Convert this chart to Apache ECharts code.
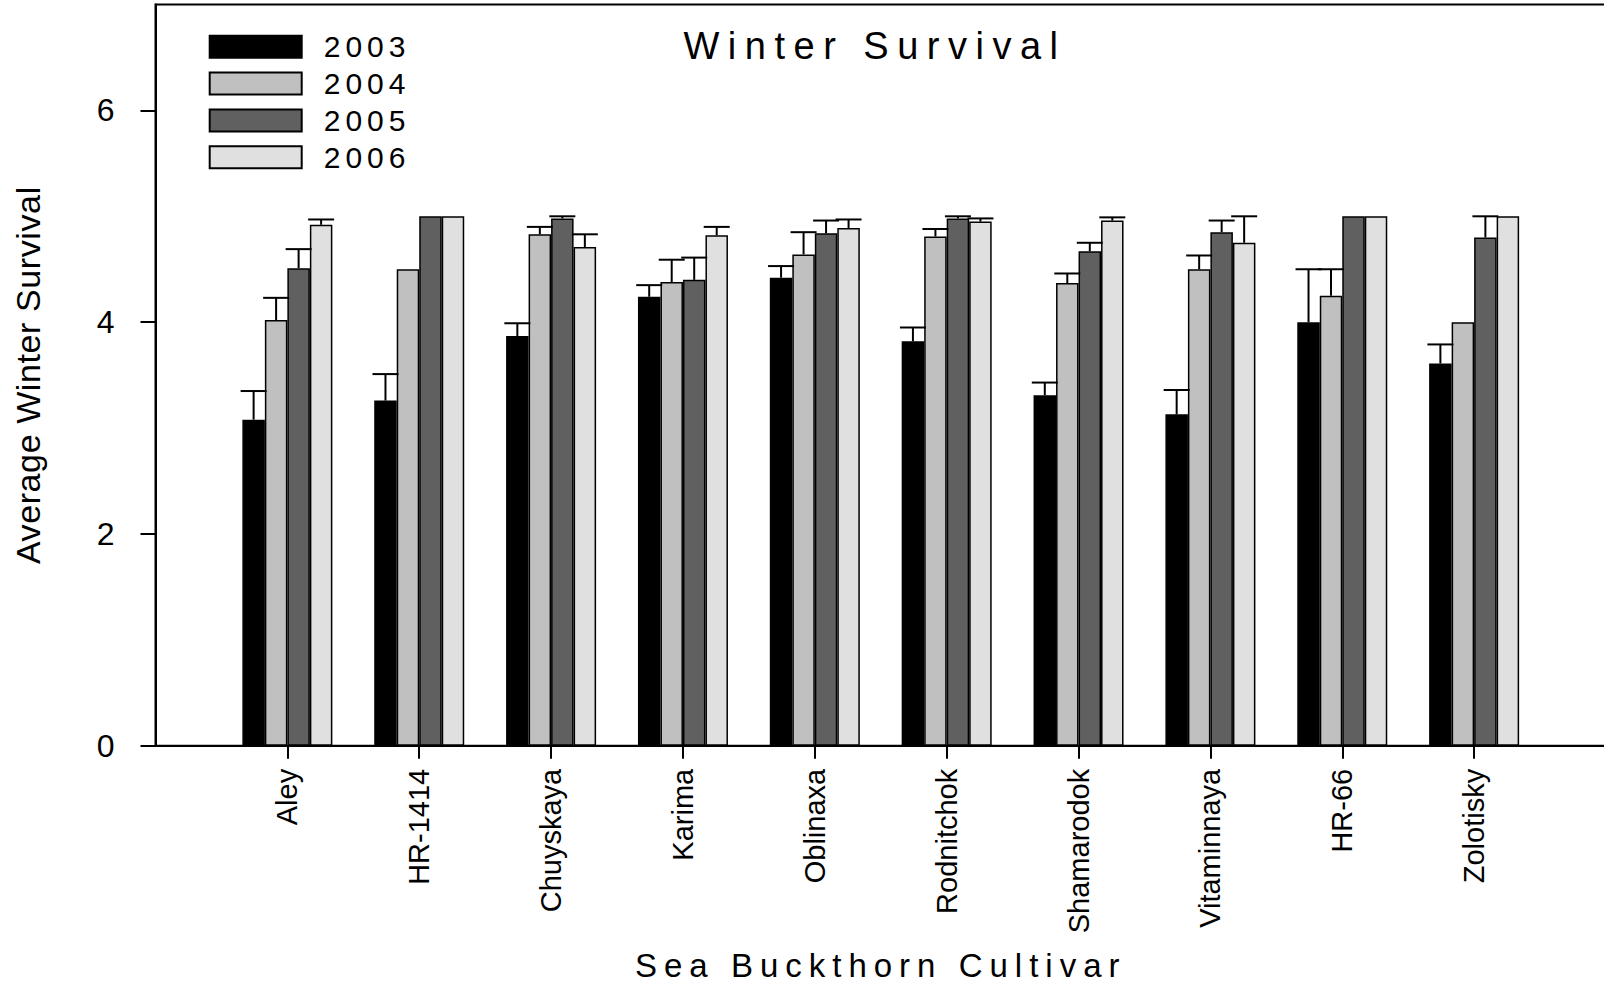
<!DOCTYPE html>
<html>
<head>
<meta charset="utf-8">
<script src="https://cdn.jsdelivr.net/npm/echarts@6/dist/echarts.min.js"></script>
<style>
html,body{margin:0;padding:0;background:#fff;}
#c{width:1604px;height:986px;}
</style>
</head>
<body>
<div id="c"></div>
<script>
// ---- data ----
const categories = ['Aley','HR-1414','Chuyskaya','Karima','Oblinaxa','Rodnitchok','Shamarodok','Vitaminnaya','HR-66','Zolotisky'];
const years = ['2003','2004','2005','2006'];
const mean2003 = [3.08, 3.26, 3.87, 4.24, 4.42, 3.82, 3.31, 3.13, 4.00, 3.61];
const mean2004 = [4.02, 4.50, 4.83, 4.38, 4.64, 4.81, 4.37, 4.50, 4.25, 4.00];
const mean2005 = [4.51, 5.00, 4.98, 4.40, 4.84, 4.98, 4.67, 4.85, 5.00, 4.80];
const mean2006 = [4.92, 5.00, 4.71, 4.82, 4.89, 4.95, 4.96, 4.75, 5.00, 5.00];
const err2003 = [0.27, 0.25, 0.12, 0.11, 0.11, 0.13, 0.12, 0.23, 0.50, 0.18];
const err2004 = [0.21, 0.00, 0.07, 0.21, 0.21, 0.07, 0.09, 0.13, 0.25, 0.00];
const err2005 = [0.18, 0.00, 0.02, 0.21, 0.12, 0.02, 0.08, 0.11, 0.00, 0.20];
const err2006 = [0.05, 0.00, 0.12, 0.08, 0.08, 0.03, 0.03, 0.25, 0.00, 0.00];
const yTicks = [0, 2, 4, 6];
const titleText = 'Winter Survival';
const xName = 'Sea Buckthorn Cultivar';
const yName = 'Average Winter Survival';

// ---- styles ----
const colors = ['#000000', '#c0c0c0', '#606060', '#e0e0e0'];
const FONT = '"Liberation Sans", Arial, Helvetica, sans-serif';
const BAR_W = 22.5;
const CAP_HALF = 13;

const means = [mean2003, mean2004, mean2005, mean2006];
const errs = [err2003, err2004, err2005, err2006];
const catPos = categories.map((c, i) => i + 1);

const chart = echarts.init(document.getElementById('c'), null, {renderer: 'svg', width: 1604, height: 986});

const barSeries = years.map((y, k) => ({
  name: y,
  type: 'bar',
  barWidth: BAR_W,
  barGap: '0%',
  z: 2,
  data: means[k].map((v, i) => [i + 1, v]),
  itemStyle: {color: colors[k], borderColor: '#000', borderWidth: 1.5}
}));

const errSeries = years.map((y, k) => ({
  name: y + ' error',
  type: 'custom',
  z: 3,
  data: means[k].map((v, i) => [i + 1, v, v + errs[k][i]]).filter((d, i) => errs[k][i] > 0),
  encode: {x: 0, y: [1, 2]},
  renderItem: function (params, api) {
    const x = api.value(0), lo = api.value(1), hi = api.value(2);
    const p0 = api.coord([x, lo]);
    const p1 = api.coord([x, hi]);
    const cx = p0[0] + (k - 1.5) * BAR_W;
    return {
      type: 'group',
      children: [
        {type: 'line', shape: {x1: cx, y1: p0[1], x2: cx, y2: p1[1]}, style: {stroke: '#000', lineWidth: 2}},
        {type: 'line', shape: {x1: cx - CAP_HALF, y1: p1[1], x2: cx + CAP_HALF, y2: p1[1]}, style: {stroke: '#000', lineWidth: 2}}
      ]
    };
  }
}));

const option = {
  animation: false,
  backgroundColor: '#fff',
  textStyle: {fontFamily: FONT, color: '#000'},
  grid: {
    left: 155.5, right: -2, top: 4.5, bottom: 240.2,
    show: true, borderColor: '#000', borderWidth: 2, backgroundColor: 'transparent',
    containLabel: false, outerBoundsMode: 'none'
  },
  legend: {
    data: years,
    orient: 'vertical',
    left: 208.7, top: 31.8, padding: 0,
    itemWidth: 92, itemHeight: 22, itemGap: 6.8,
    icon: 'rect',
    selectedMode: false,
    textStyle: {fontSize: 30, color: '#000', fontFamily: FONT, padding: [0, 0, 0, 17]}
  },
  graphic: [{
    type: 'text',
    x: 875, y: 46,
    style: {text: titleText, font: '38px ' + FONT, fill: '#000', align: 'center', verticalAlign: 'middle'}
  }],
  xAxis: {
    type: 'value',
    min: 0, max: categories.length + 1, interval: 1,
    axisLine: {show: true, onZero: false, lineStyle: {color: '#000', width: 2}},
    axisTick: {show: true, customValues: catPos, length: 13, lineStyle: {color: '#000', width: 2}},
    axisLabel: {
      customValues: catPos,
      formatter: v => categories[v - 1] || '',
      rotate: 90, margin: 23, fontSize: 29, color: '#000', fontFamily: FONT
    },
    splitLine: {show: false},
    name: xName, nameLocation: 'middle', nameGap: 203,
    nameTextStyle: {fontSize: 33, color: '#000', fontFamily: FONT}
  },
  yAxis: {
    type: 'value',
    min: 0, max: 7,
    axisLine: {show: true, lineStyle: {color: '#000', width: 2}},
    axisTick: {show: true, customValues: yTicks, length: 15, lineStyle: {color: '#000', width: 2}},
    axisLabel: {customValues: yTicks, margin: 41, fontSize: 32, color: '#000', fontFamily: FONT},
    splitLine: {show: false},
    name: yName, nameLocation: 'middle', nameGap: 111,
    nameTextStyle: {fontSize: 34, color: '#000', fontFamily: FONT}
  },
  series: barSeries.concat(errSeries)
};

chart.setOption(option);

// letter spacing of the spaced-out texts
const spacing = {};
spacing[titleText] = 8.5;
spacing[xName] = 7;
spacing[yName] = 0.6;
years.forEach(y => { spacing[y] = 5; });
function applySpacing() {
  document.querySelectorAll('#c svg text').forEach(t => {
    const s = spacing[t.textContent];
    if (s != null) t.style.letterSpacing = s + 'px';
  });
}
applySpacing();
chart.on('finished', applySpacing);
setTimeout(applySpacing, 50);
setTimeout(applySpacing, 300);
</script>
</body>
</html>
